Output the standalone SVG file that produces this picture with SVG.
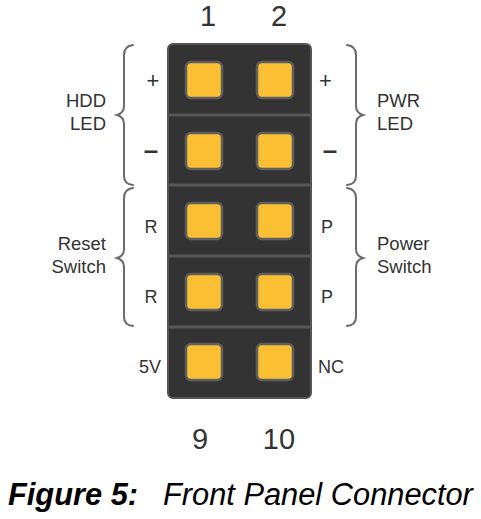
<svg xmlns="http://www.w3.org/2000/svg" width="481" height="519" viewBox="0 0 481 519">
<style>
.lbl{font-family:"Liberation Sans",Arial,sans-serif;font-size:18.5px;fill:#333}
.pin{font-family:"Liberation Sans",Arial,sans-serif;font-size:18px;fill:#333;text-anchor:middle}
.plus{font-family:"Liberation Sans",Arial,sans-serif;font-size:22px;fill:#333;text-anchor:middle}
.num{font-family:"Liberation Sans",Arial,sans-serif;font-size:29px;fill:#333;text-anchor:middle}
.pad{fill:#FBBF33;stroke:#5f5f5f;stroke-width:2.5}
.brace{fill:none;stroke:#6b6b6b;stroke-width:2;stroke-linecap:round}
.dash{font-family:"Liberation Sans",Arial,sans-serif;font-size:26px;font-weight:bold;fill:#333;text-anchor:middle}
</style>
<rect width="481" height="519" fill="#fff"/>
<g id="header">
<rect x="168" y="44" width="143" height="354" rx="5" fill="#333" stroke="#555" stroke-width="2"/>
<g stroke="#575757" stroke-width="3">
<line x1="168" y1="115" x2="311" y2="115"/>
<line x1="168" y1="185" x2="311" y2="185"/>
<line x1="168" y1="256" x2="311" y2="256"/>
<line x1="168" y1="327" x2="311" y2="327"/>
</g>
</g>
<g id="pins">
<rect class="pad" x="186" y="62" width="36" height="36" rx="5"/>
<rect class="pad" x="257" y="62" width="36" height="36" rx="5"/>
<rect class="pad" x="186" y="133" width="36" height="36" rx="5"/>
<rect class="pad" x="257" y="133" width="36" height="36" rx="5"/>
<rect class="pad" x="186" y="203" width="36" height="36" rx="5"/>
<rect class="pad" x="257" y="203" width="36" height="36" rx="5"/>
<rect class="pad" x="186" y="274" width="36" height="36" rx="5"/>
<rect class="pad" x="257" y="274" width="36" height="36" rx="5"/>
<rect class="pad" x="186" y="344" width="36" height="36" rx="5"/>
<rect class="pad" x="257" y="344" width="36" height="36" rx="5"/>
</g>
<g id="braces">
<path class="brace" d="M133,45 Q124,46 124,55 L124,106 Q124,113 117,115 Q124,117 124,124 L124,176 Q124,184 133,185"/>
<path class="brace" d="M133,188 Q124,189 124,198 L124,249 Q124,256 117,258 Q124,260 124,267 L124,317 Q124,325 133,326"/>
<path class="brace" d="M347,45 Q356,46 356,55 L356,106 Q356,113 363,115 Q356,117 356,124 L356,176 Q356,184 347,185"/>
<path class="brace" d="M347,188 Q356,189 356,198 L356,249 Q356,256 363,258 Q356,260 356,267 L356,317 Q356,325 347,326"/>
</g>
<g id="numbers">
<text class="num" x="208" y="26">1</text>
<text class="num" x="279" y="26">2</text>
<text class="num" x="200" y="449">9</text>
<text class="num" x="279" y="449">10</text>
</g>
<g id="pin-labels">
<text class="plus" x="153" y="88">+</text>
<text class="dash" x="151" y="159">–</text>
<text class="pin" x="151" y="233">R</text>
<text class="pin" x="151" y="303">R</text>
<text class="pin" x="150" y="373">5V</text>
<text class="plus" x="325.5" y="88">+</text>
<text class="dash" x="330" y="159">–</text>
<text class="pin" x="327" y="233">P</text>
<text class="pin" x="327" y="303">P</text>
<text class="pin" x="331" y="373">NC</text>
</g>
<g id="group-labels">
<text class="lbl" x="106" y="107" text-anchor="end">HDD</text>
<text class="lbl" x="106" y="130" text-anchor="end">LED</text>
<text class="lbl" x="106" y="250" text-anchor="end">Reset</text>
<text class="lbl" x="106" y="273" text-anchor="end">Switch</text>
<text class="lbl" x="377" y="107">PWR</text>
<text class="lbl" x="377" y="130">LED</text>
<text class="lbl" x="377" y="250">Power</text>
<text class="lbl" x="377" y="273">Switch</text>
</g>
<g id="caption" font-family="'Liberation Sans',Arial,sans-serif" font-size="30.8" font-style="italic" fill="#000">
<text x="8" y="505" font-weight="bold">Figure 5:</text>
<text x="163" y="505">Front Panel Connector</text>
</g>
</svg>
